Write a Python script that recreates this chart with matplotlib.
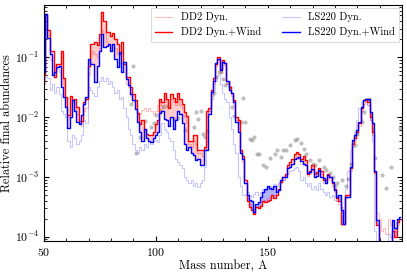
import numpy as np
import matplotlib
matplotlib.use("Agg")
import matplotlib.pyplot as plt

plt.rcParams['font.family'] = 'serif'
plt.rcParams['font.serif'] = ['cmr10']
plt.rcParams['mathtext.fontset'] = 'cm'
plt.rcParams['axes.formatter.use_mathtext'] = True

# mass numbers 50..209, values are log10 of the relative abundance
mass = np.arange(50, 210)

ls220_wind = [
    -1.25, -0.27, -0.67, -0.94, -1.30, -1.25, -1.17, -1.14, -1.50, -1.67,
    -1.83, -2.19, -2.00, -1.72, -1.89, -2.08, -2.11, -1.97, -1.78, -1.67,
    -1.03, -1.11, -1.11, -1.42, -1.14, -0.89, -0.61, -0.83, -0.81, -0.78,
    -0.89, -0.78, -1.03, -1.17, -0.92, -1.25, -1.08, -1.36, -1.47, -1.62,
    -1.72, -1.86, -2.08, -2.25, -2.40, -2.20, -2.35, -2.40, -2.42, -2.35,
    -2.30, -2.25, -1.93, -1.90, -2.03, -2.05, -2.15, -2.00, -2.20, -2.05,
    -1.90, -1.95, -2.10, -2.45, -2.55, -2.50, -2.60, -2.64, -2.72, -2.70,
    -2.80, -2.80, -2.55, -2.55, -1.95, -1.58, -1.39, -1.10, -1.03, -1.22,
    -1.08, -1.10, -1.40, -1.55, -1.60, -1.75, -2.08, -2.25, -2.60, -2.70,
    -3.10, -3.30, -3.38, -3.40, -3.58, -3.45, -3.42, -3.33, -3.25, -3.20,
    -3.16, -3.18, -3.20, -3.16, -3.25, -3.22, -3.05, -3.00, -3.00, -2.85,
    -2.83, -2.78, -2.70, -2.68, -2.67, -2.73, -2.78, -2.80, -2.94, -2.92,
    -2.86, -3.00, -2.98, -2.89, -3.00, -3.02, -3.11, -2.97, -3.00, -3.08,
    -3.22, -3.33, -3.30, -3.55, -3.78, -3.33, -3.33, -2.83, -2.39, -2.30,
    -2.22, -2.08, -1.83, -1.72, -1.69, -1.70, -1.92, -2.10, -2.90, -3.72,
    -4.50, -4.50, -4.50, -4.50, -4.50, -4.50, -3.72, -3.86, -3.70, -3.67,
]

dd2_wind = [
    -1.30, -0.28, -0.55, -0.89, -0.89, -1.33, -1.11, -1.11, -0.89, -1.35,
    -1.67, -1.97, -1.64, -1.72, -1.70, -1.83, -2.06, -2.06, -1.75, -1.70,
    -1.14, -0.78, -0.78, -0.75, -0.80, -0.61, -0.25, -0.39, -0.58, -0.58,
    -0.64, -0.60, -0.69, -0.78, -0.94, -0.75, -1.11, -1.33, -1.33, -1.50,
    -1.61, -1.72, -1.94, -2.11, -2.05, -2.20, -2.28, -2.30, -2.30, -2.25,
    -2.11, -2.05, -1.70, -1.75, -1.60, -1.70, -1.85, -1.62, -1.68, -1.75,
    -1.60, -1.70, -1.78, -1.92, -1.98, -2.40, -2.40, -2.30, -2.30, -2.55,
    -2.55, -2.55, -2.50, -1.90, -1.85, -1.55, -1.35, -1.12, -1.00, -1.20,
    -1.05, -1.10, -1.40, -1.50, -1.60, -1.72, -2.00, -2.05, -2.55, -2.65,
    -3.05, -3.40, -3.50, -3.55, -3.62, -3.50, -3.52, -3.48, -3.40, -3.42,
    -3.40, -3.38, -3.30, -3.35, -3.30, -3.20, -3.08, -3.00, -2.95, -2.80,
    -2.75, -2.70, -2.62, -2.58, -2.62, -2.70, -2.65, -2.72, -2.95, -2.90,
    -2.80, -2.95, -2.92, -2.85, -2.90, -3.05, -3.05, -2.95, -3.00, -3.10,
    -3.20, -3.35, -3.40, -3.78, -3.78, -3.30, -3.30, -2.85, -2.45, -2.35,
    -2.25, -2.10, -1.85, -1.72, -1.70, -1.75, -2.00, -2.25, -2.92, -3.80,
    -4.50, -4.50, -4.50, -4.50, -4.50, -4.50, -3.90, -4.00, -3.75, -3.70,
]

ls220_dyn = [
    -1.40, -1.30, -1.35, -1.55, -1.45, -1.60, -1.50, -1.62, -1.90, -1.95,
    -2.00, -2.40, -2.50, -2.30, -2.35, -2.45, -2.40, -2.30, -2.05, -2.10,
    -1.50, -1.55, -1.60, -1.65, -1.50, -1.40, -1.33, -1.40, -1.35, -1.45,
    -1.40, -1.50, -1.60, -1.55, -1.70, -1.67, -1.85, -2.00, -2.20, -2.30,
    -2.45, -2.55, -2.60, -2.50, -2.55, -2.45, -2.50, -2.40, -2.45, -2.40,
    -2.38, -2.42, -2.30, -2.10, -2.20, -2.25, -2.35, -2.40, -2.55, -2.70,
    -2.75, -2.80, -2.85, -3.00, -3.05, -3.10, -3.05, -3.15, -3.10, -3.17,
    -3.10, -3.05, -2.83, -2.40, -1.90, -1.70, -1.55, -1.40, -1.30, -1.45,
    -1.60, -1.70, -1.75, -2.00, -2.20, -2.45, -2.60, -3.00, -3.15, -3.30,
    -3.30, -3.25, -3.30, -3.33, -3.28, -3.25, -3.30, -3.25, -3.20, -3.22,
    -3.20, -3.15, -3.18, -3.12, -3.15, -3.10, -3.05, -3.05, -3.00, -2.95,
    -2.90, -2.88, -2.85, -2.83, -2.90, -3.05, -3.00, -3.10, -3.15, -3.10,
    -3.20, -3.15, -3.22, -3.10, -3.20, -3.25, -3.30, -3.25, -3.33, -3.30,
    -3.38, -3.40, -3.35, -3.50, -3.60, -3.20, -2.90, -2.55, -2.40, -2.25,
    -2.05, -1.85, -1.75, -1.72, -1.72, -1.80, -2.05, -2.40, -3.90, -4.50,
    -4.50, -4.50, -4.50, -4.50, -3.95, -4.00, -4.50, -4.50, -4.50, -4.50,
]

dd2_dyn = [
    -1.45, -0.35, -0.62, -1.05, -1.00, -1.30, -1.20, -1.25, -1.00, -1.45,
    -1.70, -2.00, -1.75, -1.80, -1.85, -1.95, -2.10, -2.15, -1.90, -1.85,
    -1.30, -0.95, -0.90, -0.95, -1.00, -0.85, -0.55, -0.60, -0.75, -0.80,
    -0.85, -0.80, -0.85, -0.95, -1.10, -0.90, -1.25, -1.45, -1.50, -1.65,
    -1.75, -1.80, -1.95, -1.95, -1.88, -1.85, -1.90, -1.85, -1.90, -1.95,
    -1.90, -1.80, -1.75, -1.80, -1.65, -1.75, -1.85, -1.70, -1.75, -1.80,
    -1.65, -1.80, -1.85, -2.00, -2.10, -2.45, -2.50, -2.40, -2.45, -2.60,
    -2.60, -2.65, -2.55, -2.00, -1.90, -1.65, -1.45, -1.15, -1.05, -1.25,
    -1.10, -1.15, -1.45, -1.55, -1.65, -1.80, -2.05, -2.20, -2.60, -2.75,
    -3.10, -3.35, -3.45, -3.50, -3.55, -3.50, -3.48, -3.45, -3.40, -3.38,
    -3.35, -3.33, -3.30, -3.30, -3.25, -3.20, -3.10, -3.05, -3.00, -2.85,
    -2.80, -2.78, -2.70, -2.65, -2.70, -2.78, -2.72, -2.80, -2.98, -2.95,
    -2.88, -3.00, -2.98, -2.92, -2.95, -3.10, -3.10, -3.00, -3.05, -3.15,
    -3.25, -3.40, -3.45, -3.80, -3.80, -3.35, -3.30, -2.90, -2.50, -2.40,
    -2.30, -2.15, -1.90, -1.78, -1.75, -1.80, -2.05, -2.30, -2.95, -3.60,
    -3.70, -3.90, -3.85, -3.95, -3.70, -3.80, -3.75, -3.90, -3.80, -3.70,
]

# solar r-process points
solar_mass = [89, 90, 91, 93, 95, 98, 99, 100, 102, 103, 105, 108, 110, 113,
              117, 118, 119, 120, 121, 122, 123, 126, 127, 128, 129, 130, 131,
              132, 133, 134, 135, 137, 138, 139, 140, 142, 143, 144, 145, 146,
              148, 149, 151, 153, 154, 156, 157, 158, 160, 162, 163, 165, 166,
              167, 169, 170, 171, 173, 175, 176, 178, 179, 180, 181, 183, 185,
              186, 187, 189, 190, 192, 193, 194, 195, 198, 201, 203, 205, 209]
solar_log = [-1.78, -1.14, -2.60, -2.33, -2.06, -2.16, -2.10, -1.96, -1.90,
             -1.83, -1.82, -2.04, -2.01, -2.22, -2.16, -1.92, -2.04, -1.90,
             -2.29, -2.34, -2.23, -1.60, -1.33, -1.25, -1.25, -1.36, -1.47,
             -1.43, -1.50, -1.83, -1.99, -2.08, -2.08, -1.68, -2.08, -2.36,
             -2.39, -2.33, -2.61, -2.62, -2.80, -2.83, -2.69, -2.61, -2.55,
             -2.67, -2.55, -2.55, -2.47, -2.39, -2.36, -2.44, -2.53, -2.61,
             -2.72, -2.78, -2.80, -2.72, -2.83, -2.89, -2.94, -3.00, -3.16,
             -3.11, -3.05, -3.16, -3.03, -2.78, -2.47, -2.28, -2.08, -1.92,
             -1.72, -1.69, -2.69, -2.97, -3.19, -2.83, -2.19]

dd2w = 10.0 ** np.array(dd2_wind)
lsw = 10.0 ** np.array(ls220_wind)
dd2d = 10.0 ** np.array(dd2_dyn)
lsd = 10.0 ** np.array(ls220_dyn)

fig = plt.figure(figsize=(4.07, 2.75), dpi=100)
ax = fig.add_axes([0.108, 0.124, 0.880, 0.858])

ax.plot(solar_mass, 10.0 ** np.array(solar_log), 'o', color='gray', alpha=0.5,
        ms=3, mec='none', zorder=1)

ax.step(mass, dd2d, where='mid', color='red', alpha=0.25, lw=0.8, label='DD2 Dyn.')
ax.step(mass, lsd, where='mid', color='blue', alpha=0.22, lw=0.8, label='LS220 Dyn.')

ax.fill_between(mass, lsw, dd2w, where=dd2w >= lsw, step='mid',
                color='red', alpha=0.2, lw=0, interpolate=False)
ax.fill_between(mass, lsw, dd2w, where=lsw >= dd2w, step='mid',
                color='blue', alpha=0.3, lw=0, interpolate=False)

ax.step(mass, dd2w, where='mid', color='red', lw=1.0, label='DD2 Dyn.+Wind')
ax.step(mass, lsw, where='mid', color='blue', lw=1.0, label='LS220 Dyn.+Wind')

ax.set_yscale('log')
ax.set_xlim(50, 210)
ax.set_ylim(8.5e-5, 0.75)
ax.set_xticks([50, 100, 150])
ax.set_xticks(np.arange(60, 210, 10), minor=True)
ax.tick_params(which='both', direction='in', top=True, right=True, labelsize=8.5)
ax.tick_params(which='major', length=3.5)
ax.tick_params(which='minor', length=2)

ax.set_xlabel('Mass number, A', fontsize=8.8, labelpad=2)
ax.set_ylabel('Relative final abundances', fontsize=8.8, labelpad=1)

h, l = ax.get_legend_handles_labels()
order = [0, 2, 1, 3]
leg = ax.legend([h[i] for i in order], [l[i] for i in order], loc='upper right',
                ncol=2, fontsize=7.5, fancybox=False, edgecolor='#dddddd',
                framealpha=1, handlelength=1.7, borderaxespad=0.3,
                columnspacing=2.0)
leg.get_frame().set_linewidth(0.8)

fig.savefig('out.png', dpi=100)
